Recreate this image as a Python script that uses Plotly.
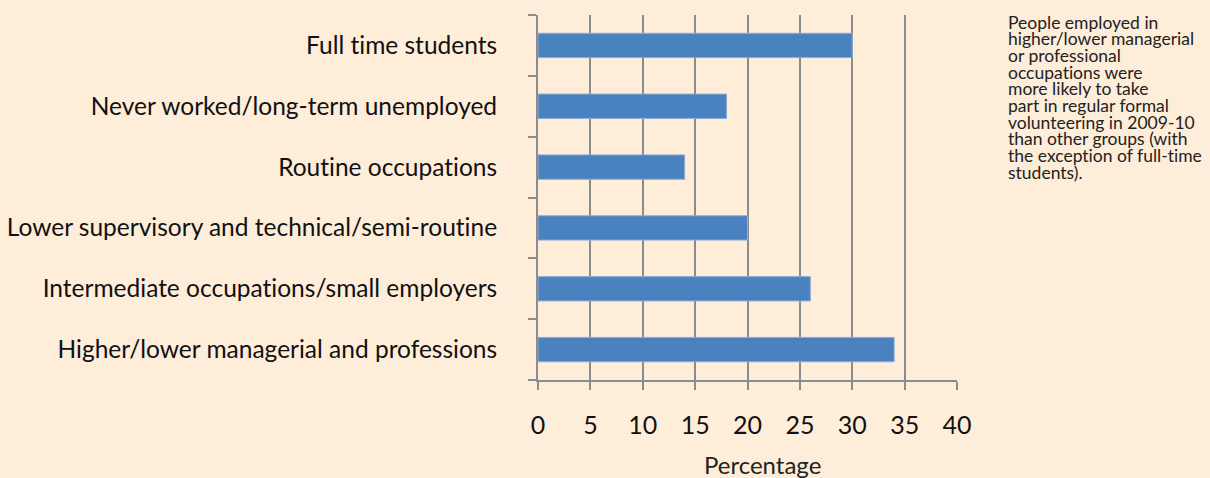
import plotly.graph_objects as go

# Regular formal volunteering by socio-economic group, 2009-10
categories = [
    "Higher/lower managerial and professions",
    "Intermediate occupations/small employers",
    "Lower supervisory and technical/semi-routine",
    "Routine occupations",
    "Never worked/long-term unemployed",
    "Full time students",
]
percentages = [34, 26, 20, 14, 18, 30]

x_ticks = [0, 5, 10, 15, 20, 25, 30, 35, 40]

note_lines = [
    "People employed in",
    "higher/lower managerial",
    "or professional",
    "occupations were",
    "more likely to take",
    "part in regular formal",
    "volunteering in 2009-10",
    "than other groups (with",
    "the exception of full-time",
    "students).",
]

BG = "#FEEDD9"
GRID = "#8C8C8C"
FONT = "Lato"

fig = go.Figure(
    go.Bar(
        x=percentages,
        y=categories,
        orientation="h",
        marker=dict(color="#4A81BF", line=dict(color="#8DADD6", width=1)),
        hoverinfo="x+y",
    )
)

fig.update_layout(
    width=1210,
    height=478,
    margin=dict(l=538, r=253, t=15, b=98),
    paper_bgcolor=BG,
    plot_bgcolor=BG,
    bargap=0.6,
    showlegend=False,
    font=dict(family=FONT, color="#111111"),
)

fig.update_xaxes(
    range=[0, 40],
    tickvals=x_ticks,
    ticktext=[str(v) for v in x_ticks],
    showgrid=True,
    gridcolor=GRID,
    gridwidth=2,
    showline=True,
    linecolor=GRID,
    linewidth=2,
    ticks="outside",
    ticklen=8,
    tickwidth=2,
    tickcolor=GRID,
    ticklabelstandoff=14,
    tickfont=dict(size=25, color="#111111"),
    zeroline=False,
    automargin=False,
    fixedrange=True,
)

fig.update_yaxes(
    categoryorder="array",
    categoryarray=categories,
    showgrid=False,
    showline=True,
    linecolor=GRID,
    linewidth=2,
    ticks="outside",
    tickson="boundaries",
    ticklen=8,
    tickwidth=2,
    tickcolor=GRID,
    ticklabelstandoff=34,
    tickfont=dict(size=24.5, color="#111111"),
    zeroline=False,
    automargin=False,
    fixedrange=True,
)

# x-axis title, set slightly right of the plot centre
fig.add_annotation(
    text="Percentage",
    xref="paper",
    yref="paper",
    x=0.5,
    y=0,
    xanchor="center",
    yanchor="middle",
    xshift=15,
    yshift=-84,
    showarrow=False,
    font=dict(family=FONT, size=24, color="#222222"),
)

# side note, one annotation per line for tight leading
for i, line in enumerate(note_lines):
    fig.add_annotation(
        text=line,
        xref="paper",
        yref="paper",
        x=1,
        y=1,
        xanchor="left",
        yanchor="middle",
        xshift=49,
        yshift=-7 - i * 16.7,
        showarrow=False,
        align="left",
        font=dict(family=FONT, size=17.5, color="#222222"),
    )

fig.write_html(
    "out.html",
    post_script=(
        "document.head.insertAdjacentHTML('beforeend',"
        "'<style>text{font-variant-ligatures:none !important;}</style>');"
    ),
)
